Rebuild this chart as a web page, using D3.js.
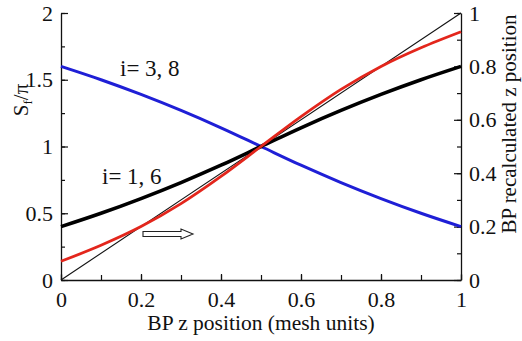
<!DOCTYPE html>
<html>
<head>
<meta charset="utf-8">
<script src="https://cdn.jsdelivr.net/npm/d3@7"></script>
<style>
  body { margin: 0; background: #fff; }
  svg { display: block; }
</style>
</head>
<body>
<svg id="chart" width="522" height="341"></svg>
<script>
// BP z position along the mesh (x, shared by all curves)
const zPos = [0, 0.1, 0.2, 0.3, 0.4, 0.5, 0.6, 0.7, 0.8, 0.9, 1.0];
// S_f / pi for i = 1, 6 (left axis)
const sfI16 = [0.40, 0.50, 0.61, 0.73, 0.86, 1.00, 1.14, 1.27, 1.39, 1.50, 1.60];
// S_f / pi for i = 3, 8 (left axis)
const sfI38 = [1.60, 1.50, 1.39, 1.27, 1.14, 1.00, 0.86, 0.73, 0.61, 0.50, 0.40];
// recalculated BP z position (right axis)
const bpRecalc = [0.07, 0.13, 0.20, 0.286, 0.388, 0.50, 0.612, 0.714, 0.80, 0.87, 0.93];
// reference line: recalculated == original (right axis)
const bpIdentity = [0, 1];
const bpIdentityX = [0, 1];

const xTicks = [0, 0.2, 0.4, 0.6, 0.8, 1];
const xMinor = d3.range(0, 1.0001, 0.1);
const yLeftTicks = [0, 0.5, 1, 1.5, 2];
const yLeftMinor = d3.range(0, 2.0001, 0.25);
const yRightTicks = [0, 0.2, 0.4, 0.6, 0.8, 1];
const yRightMinor = d3.range(0, 1.0001, 0.1);

const SERIF = '"Liberation Serif", "Times New Roman", Times, serif';

const svg = d3.select("#chart");
const L = 61, R = 461, T = 13, B = 280;

const x = d3.scaleLinear().domain([0, 1]).range([L, R]);
const yL = d3.scaleLinear().domain([0, 2]).range([B, T]);
const yR = d3.scaleLinear().domain([0, 1]).range([B, T]);

const fmt = d => String(+d.toFixed(2));

// major axis with labels (ticks point inward)
function axisGroup(axis, tx, ty) {
  const g = svg.append("g").attr("transform", `translate(${tx},${ty})`).call(axis);
  g.attr("font-family", null).attr("font-size", null);
  g.select(".domain").attr("stroke", "#111").attr("stroke-width", 1.3);
  g.selectAll(".tick line").attr("stroke", "#111").attr("stroke-width", 1.2);
  g.selectAll("text").style("font-family", SERIF).style("font-size", "22px").attr("fill", "#111");
  return g;
}

// minor ticks
function minorTicks(axis, tx, ty) {
  svg.append("g").attr("transform", `translate(${tx},${ty})`).call(axis)
    .call(g => g.select(".domain").remove())
    .selectAll("line").attr("stroke", "#111").attr("stroke-width", 1.2);
}
minorTicks(d3.axisBottom(x).tickValues(xMinor).tickSize(-5).tickFormat(""), 0, B);
minorTicks(d3.axisLeft(yL).tickValues(yLeftMinor).tickSize(-4).tickFormat(""), L, 0);
minorTicks(d3.axisRight(yR).tickValues(yRightMinor).tickSize(-4).tickFormat(""), R, 0);

axisGroup(d3.axisBottom(x).tickValues(xTicks).tickSize(-6).tickSizeOuter(0).tickPadding(11).tickFormat(fmt), 0, B);
axisGroup(d3.axisLeft(yL).tickValues(yLeftTicks).tickSize(-7).tickSizeOuter(0).tickPadding(8).tickFormat(fmt), L, 0);
axisGroup(d3.axisRight(yR).tickValues(yRightTicks).tickSize(-7).tickSizeOuter(0).tickPadding(8).tickFormat(fmt), R, 0);

// curves
const lineL = d3.line().x((d, i) => x(zPos[i])).y(d => yL(d)).curve(d3.curveCatmullRom.alpha(0.5));
const lineR = d3.line().x((d, i) => x(zPos[i])).y(d => yR(d)).curve(d3.curveCatmullRom.alpha(0.5));

svg.append("path").datum(bpIdentity)
  .attr("d", d3.line().x((d, i) => x(bpIdentityX[i])).y(d => yR(d)))
  .attr("fill", "none").attr("stroke", "#111").attr("stroke-width", 1.1);

svg.append("path").datum(sfI38).attr("d", lineL)
  .attr("fill", "none").attr("stroke", "#1f1fd6").attr("stroke-width", 3);

svg.append("path").datum(sfI16).attr("d", lineL)
  .attr("fill", "none").attr("stroke", "#000").attr("stroke-width", 3.6);

svg.append("path").datum(bpRecalc).attr("d", lineR)
  .attr("fill", "none").attr("stroke", "#e3261c").attr("stroke-width", 2.8);

// text helper
function label(x0, y0, size, str, rot) {
  const t = svg.append("text")
    .attr("transform", rot ? `translate(${x0},${y0}) rotate(${rot})` : `translate(${x0},${y0})`)
    .style("font-family", SERIF).style("font-size", size + "px").attr("fill", "#111");
  if (str) t.text(str);
  return t;
}

// curve labels
label(120, 76, 23, "i= 3, 8");
label(102, 184, 23, "i= 1, 6");

// open arrow pointing to the right axis
const ay = 234;
svg.append("path")
  .attr("d", `M143,${ay - 2.5} H181 V${ay - 5} L193,${ay} L181,${ay + 5} V${ay + 2.5} H143 Z`)
  .attr("fill", "#fff").attr("stroke", "#222").attr("stroke-width", 1.1);

// axis titles
label(261, 330, 21.5, "BP z position (mesh units)").attr("text-anchor", "middle");
label(516, 124, 21, "BP recalculated z position", -90).attr("text-anchor", "middle");

const yt = label(28, 100, 21, null, -90).attr("text-anchor", "middle");
yt.append("tspan").text("S");
yt.append("tspan").style("font-size", "13px").attr("dy", 4).text("f");
yt.append("tspan").attr("dy", -4).text("/π");
</script>
</body>
</html>
